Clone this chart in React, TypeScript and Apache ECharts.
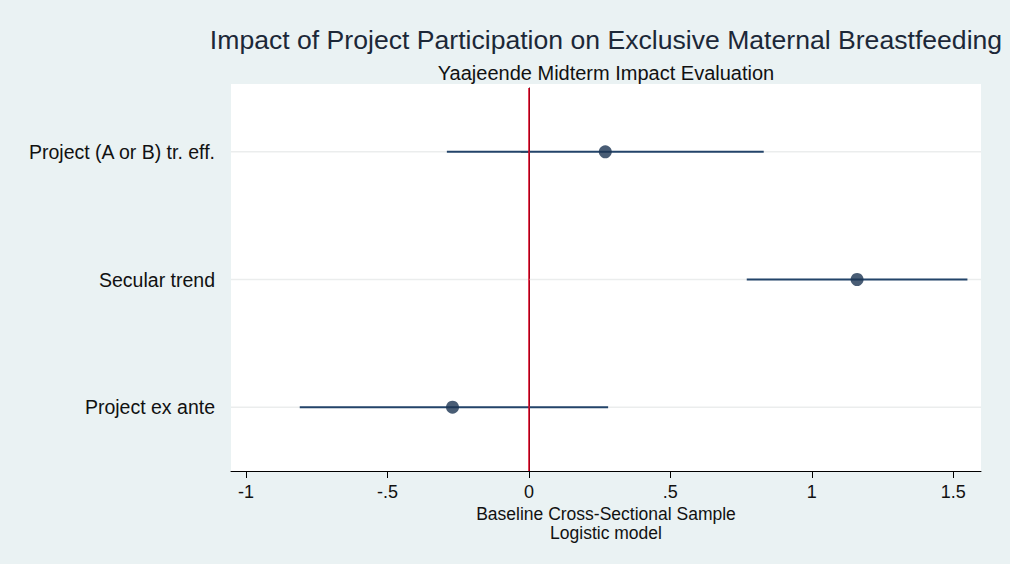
import React, { useEffect, useRef } from "react";
import * as echarts from "echarts";

// Coefficients (log-odds) with 95% confidence intervals
const categories = ["Project (A or B) tr. eff.", "Secular trend", "Project ex ante"];
const estimates = [0.27, 1.16, -0.27];
const lowerCI = [-0.29, 0.77, -0.81];
const upperCI = [0.83, 1.55, 0.28];
const xTicks = [-1, -0.5, 0, 0.5, 1, 1.5];

const titleText = "Impact of Project Participation on Exclusive Maternal Breastfeeding";
const subtitleText = "Yaajeende Midterm Impact Evaluation";
const xTitleLines = ["Baseline Cross-Sectional Sample", "Logistic model"];

const FONT = "'Liberation Sans', Arial, sans-serif";

const fmtTick = (v: number) => {
  const s = String(v);
  if (s.startsWith("0.")) return s.slice(1);
  if (s.startsWith("-0.")) return "-" + s.slice(2);
  return s;
};

export default function App() {
  const ref = useRef<HTMLDivElement>(null);

  useEffect(() => {
    document.body.style.margin = "0";
    if (!ref.current) return;
    const chart = echarts.init(ref.current, null, { renderer: "svg" });

    const rows = categories.map((_, i) => [i, lowerCI[i], upperCI[i]]);

    const centerText = (text: string, y: number, size: number, fill: string) => ({
      type: "text",
      style: {
        text,
        x: 606,
        y,
        align: "center",
        verticalAlign: "middle",
        fontFamily: FONT,
        fontSize: size,
        fill,
      },
    });

    chart.setOption({
      animation: false,
      backgroundColor: "#EAF2F3",
      grid: {
        left: 231,
        right: 29,
        top: 88,
        bottom: 93,
        show: true,
        backgroundColor: "#ffffff",
        borderWidth: 0,
      },
      graphic: [
        // small white margin above the plot region
        {
          type: "rect",
          silent: true,
          shape: { x: 231, y: 84, width: 750, height: 4 },
          style: { fill: "#ffffff" },
        },
        centerText(titleText, 40, 26.6, "#1c2838"),
        centerText(subtitleText, 73, 20, "#111111"),
        centerText(xTitleLines[0], 514, 17.5, "#111111"),
        centerText(xTitleLines[1], 533, 17.5, "#111111"),
      ],
      xAxis: {
        type: "value",
        min: -1.053,
        max: 1.598,
        axisLine: { show: true, lineStyle: { color: "#000000", width: 1 } },
        axisTick: {
          show: true,
          customValues: xTicks,
          length: 7,
          lineStyle: { color: "#000000" },
        },
        axisLabel: {
          customValues: xTicks,
          formatter: (v: number) => fmtTick(v),
          fontFamily: FONT,
          fontSize: 18,
          color: "#111111",
          margin: 12,
        },
        splitLine: { show: false },
      },
      yAxis: {
        type: "category",
        data: categories,
        inverse: true,
        axisLine: { show: true, lineStyle: { color: "#000000", width: 1 } },
        axisTick: {
          show: true,
          alignWithLabel: true,
          length: 8,
          lineStyle: { color: "#000000" },
        },
        axisLabel: {
          fontFamily: FONT,
          fontSize: 19.5,
          color: "#111111",
          margin: 16,
        },
        splitLine: { show: false },
      },
      series: [
        {
          // faint horizontal rule at each coefficient row
          type: "custom",
          z: 1,
          silent: true,
          data: categories.map((_, i) => [i]),
          encode: { y: 0 },
          renderItem: (params: any, api: any) => {
            const cs = params.coordSys;
            const y = api.coord([0, api.value(0)])[1];
            return {
              type: "line",
              shape: { x1: cs.x, y1: y, x2: cs.x + cs.width, y2: y },
              style: { stroke: "#ebeded", lineWidth: 1.5 },
            };
          },
        },
        {
          // confidence interval bars
          type: "custom",
          z: 3,
          data: rows,
          encode: { y: 0, x: [1, 2] },
          renderItem: (_params: any, api: any) => {
            const i = api.value(0);
            const p1 = api.coord([api.value(1), i]);
            const p2 = api.coord([api.value(2), i]);
            return {
              type: "line",
              shape: { x1: p1[0], y1: p1[1], x2: p2[0], y2: p2[1] },
              style: { stroke: "#23446a", lineWidth: 2 },
            };
          },
        },
        {
          type: "scatter",
          z: 4,
          symbol: "circle",
          symbolSize: 13,
          itemStyle: { color: "#1b3553" },
          data: estimates.map((v, i) => [v, categories[i]]),
          markLine: {
            silent: true,
            symbol: "none",
            label: { show: false },
            lineStyle: { color: "#dc0020", width: 1.5, type: "solid" },
            data: [{ xAxis: 0 }],
          },
        },
      ],
    });

    return () => chart.dispose();
  }, []);

  return <div ref={ref} style={{ width: 1010, height: 564 }} />;
}
